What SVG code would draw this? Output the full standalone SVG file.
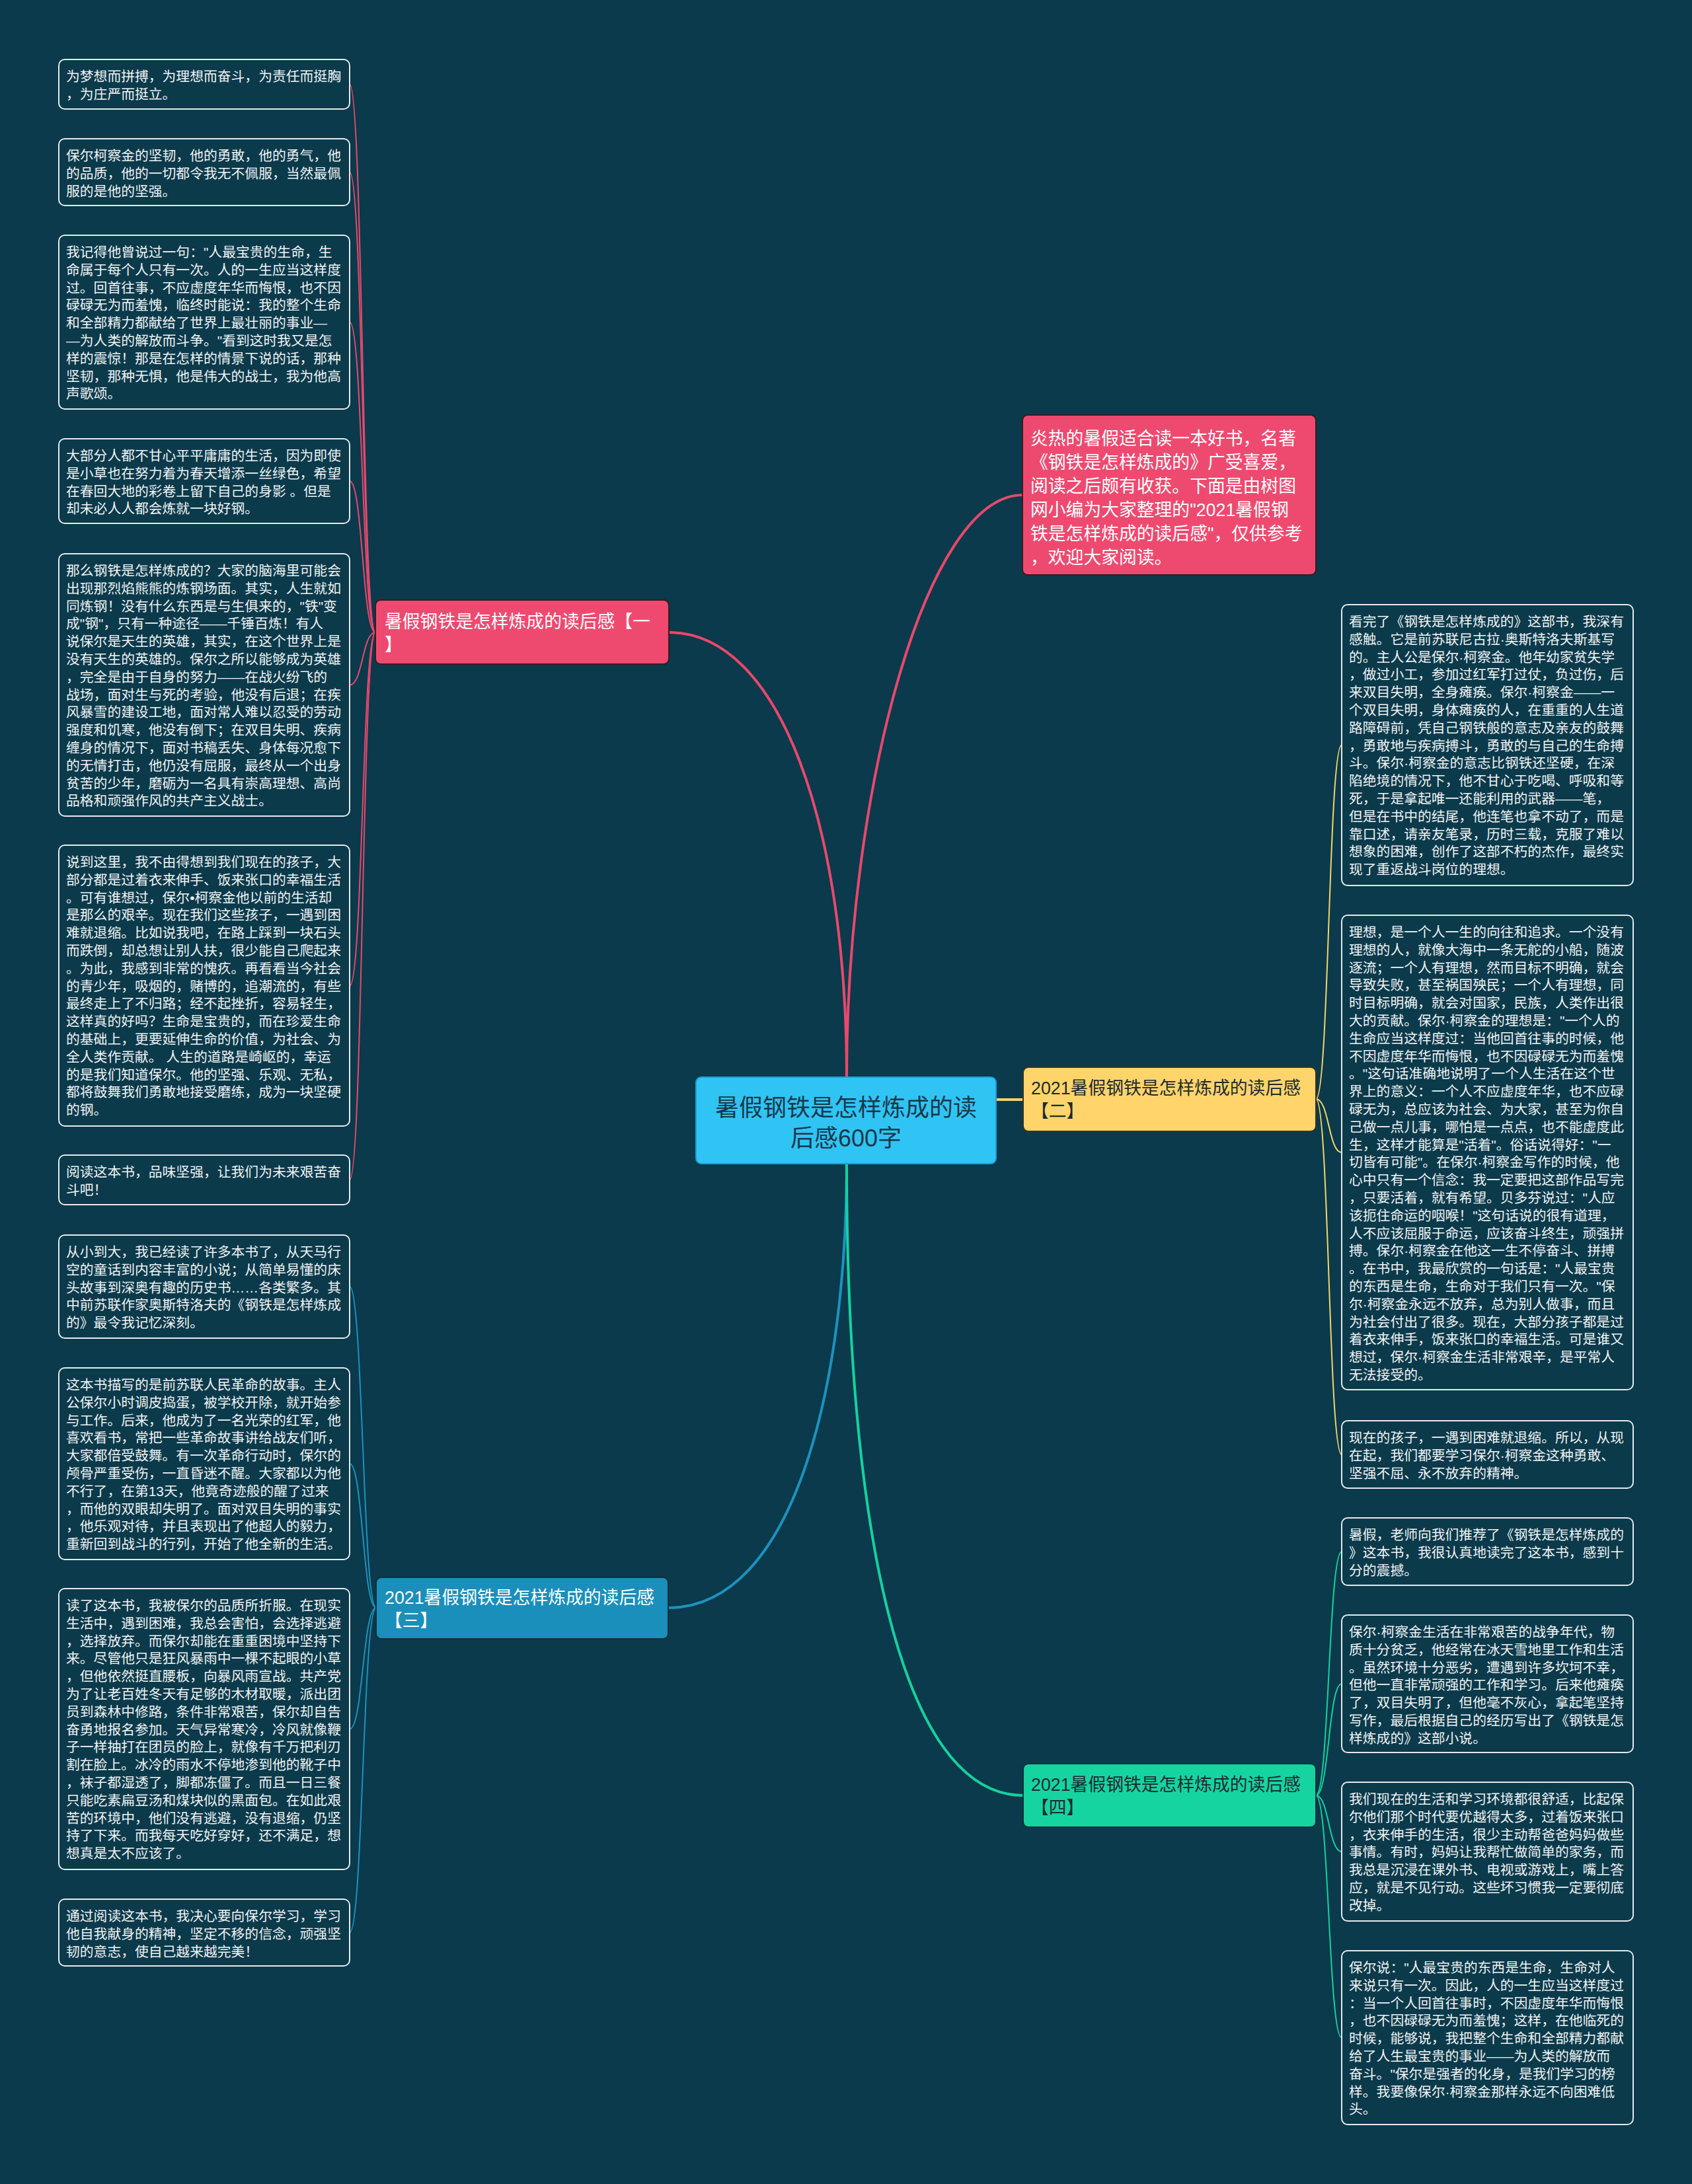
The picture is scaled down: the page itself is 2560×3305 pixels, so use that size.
<svg xmlns="http://www.w3.org/2000/svg" width="2560" height="3305" viewBox="0 0 2560 3305">
<style>
text{font-family:"Liberation Sans","Noto Sans CJK SC",sans-serif;}
.box{fill:#0b3a4b;stroke:#e4eaec;stroke-width:2;}
.t{font-size:20.8px;fill:#f0f3f4;}
.bt{font-size:26.8px;}
.c{fill:none;stroke-linecap:round;}
.cr{stroke:#e9486d;}
.cy{stroke:#f6d46a;}
.cb{stroke:#1d92bf;}
.cg{stroke:#14d2a0;}
.main{stroke-width:4;}
.sub{stroke-width:2;}
</style>
<rect x="0" y="0" width="2560" height="3305" fill="#0a3a4b"/>
<g id="connectors">
<path class="c cr main" d="M1281,1630 C1281,1200 1400,749 1547,749"/>
<path class="c cr main" d="M1281,1630 C1281,1250 1180,957 1012,957"/>
<path class="c cy main" d="M1507,1664 L1548,1664"/>
<path class="c cb main" d="M1281,1761 C1281,2100 1200,2433 1011,2433"/>
<path class="c cg main" d="M1281,1761 C1281,2300 1360,2717 1548,2717"/>
<path class="c cr sub" d="M568,957 C548,957 549,127.5 529,127.5"/>
<path class="c cr sub" d="M568,957 C548,957 549,260.5 529,260.5"/>
<path class="c cr sub" d="M568,957 C548,957 549,487.5 529,487.5"/>
<path class="c cr sub" d="M568,957 C548,957 549,728 529,728"/>
<path class="c cr sub" d="M568,957 C548,957 549,1036.5 529,1036.5"/>
<path class="c cr sub" d="M568,957 C548,957 549,1492 529,1492"/>
<path class="c cr sub" d="M568,957 C548,957 549,1785.5 529,1785.5"/>
<path class="c cy sub" d="M1991,1663 C2011,1663 2010,1127.5 2030,1127.5"/>
<path class="c cy sub" d="M1991,1663 C2011,1663 2010,1744 2030,1744"/>
<path class="c cy sub" d="M1991,1663 C2011,1663 2010,2201 2030,2201"/>
<path class="c cb sub" d="M569,2433 C549,2433 549,1947 529,1947"/>
<path class="c cb sub" d="M569,2433 C549,2433 549,2215 529,2215"/>
<path class="c cb sub" d="M569,2433 C549,2433 549,2616.5 529,2616.5"/>
<path class="c cb sub" d="M569,2433 C549,2433 549,2924.5 529,2924.5"/>
<path class="c cg sub" d="M1991,2717 C2011,2717 2010,2348 2030,2348"/>
<path class="c cg sub" d="M1991,2717 C2011,2717 2010,2548 2030,2548"/>
<path class="c cg sub" d="M1991,2717 C2011,2717 2010,2802 2030,2802"/>
<path class="c cg sub" d="M1991,2717 C2011,2717 2010,3083.5 2030,3083.5"/>
</g>
<g id="main">
<rect x="1053" y="1630" width="454" height="131" rx="8" fill="#2fc4f4" stroke="#1a9fd4" stroke-width="2"/>
<text x="1280" y="1689" font-size="36px" fill="#17384a" text-anchor="middle"><tspan x="1280">暑假钢铁是怎样炼成的读</tspan><tspan x="1280" dy="46">后感600字</tspan></text>
</g>
<g id="intro">
<rect x="1547" y="628" width="444" height="242" rx="8" fill="#ee4a70" stroke="#3a1a22" stroke-width="2"/>
<text class="bt" x="1559" y="673" fill="#ffffff"><tspan x="1559">炎热的暑假适合读一本好书，名著</tspan><tspan x="1559" dy="36">《钢铁是怎样炼成的》广受喜爱，</tspan><tspan x="1559" dy="36">阅读之后颇有收获。下面是由树图</tspan><tspan x="1559" dy="36">网小编为大家整理的"2021暑假钢</tspan><tspan x="1559" dy="36">铁是怎样炼成的读后感"，仅供参考</tspan><tspan x="1559" dy="36">，欢迎大家阅读。</tspan></text>
</g>
<g id="branch1">
<rect x="568" y="908" width="444" height="97" rx="8" fill="#ee4a70" stroke="#3a1a22" stroke-width="2"/>
<text class="bt" x="582" y="950" fill="#ffffff"><tspan x="582">暑假钢铁是怎样炼成的读后感【一</tspan><tspan x="582" dy="35">】</tspan></text>
</g>
<g id="branch2">
<rect x="1548" y="1615" width="443" height="97" rx="8" fill="#ffd56b" stroke="#3a3320" stroke-width="2"/>
<text class="bt" x="1560" y="1656" fill="#1e2a30"><tspan x="1560">2021暑假钢铁是怎样炼成的读后感</tspan><tspan x="1560" dy="35">【二】</tspan></text>
</g>
<g id="branch3">
<rect x="569" y="2387" width="442" height="93" rx="8" fill="#1a8fbb" stroke="#10303c" stroke-width="2"/>
<text class="bt" x="582" y="2427" fill="#ffffff"><tspan x="582">2021暑假钢铁是怎样炼成的读后感</tspan><tspan x="582" dy="35">【三】</tspan></text>
</g>
<g id="branch4">
<rect x="1548" y="2669" width="443" height="96" rx="8" fill="#15d4a0" stroke="#10303c" stroke-width="2"/>
<text class="bt" x="1560" y="2710" fill="#1e2a30"><tspan x="1560">2021暑假钢铁是怎样炼成的读后感</tspan><tspan x="1560" dy="35">【四】</tspan></text>
</g>
<g id="l1">
<rect class="box" x="89" y="90" width="440" height="75" rx="9"/>
<text class="t" x="100" y="123"><tspan x="100">为梦想而拼搏，为理想而奋斗，为责任而挺胸</tspan><tspan x="100" dy="26.8">，为庄严而挺立。</tspan></text>
</g>
<g id="l2">
<rect class="box" x="89" y="210" width="440" height="101" rx="9"/>
<text class="t" x="100" y="243"><tspan x="100">保尔柯察金的坚韧，他的勇敢，他的勇气，他</tspan><tspan x="100" dy="26.8">的品质，他的一切都令我无不佩服，当然最佩</tspan><tspan x="100" dy="26.8">服的是他的坚强。</tspan></text>
</g>
<g id="l3">
<rect class="box" x="89" y="356" width="440" height="263" rx="9"/>
<text class="t" x="100" y="389"><tspan x="100">我记得他曾说过一句："人最宝贵的生命，生</tspan><tspan x="100" dy="26.8">命属于每个人只有一次。人的一生应当这样度</tspan><tspan x="100" dy="26.8">过。回首往事，不应虚度年华而悔恨，也不因</tspan><tspan x="100" dy="26.8">碌碌无为而羞愧，临终时能说：我的整个生命</tspan><tspan x="100" dy="26.8">和全部精力都献给了世界上最壮丽的事业—</tspan><tspan x="100" dy="26.8">—为人类的解放而斗争。"看到这时我又是怎</tspan><tspan x="100" dy="26.8">样的震惊！那是在怎样的情景下说的话，那种</tspan><tspan x="100" dy="26.8">坚韧，那种无惧，他是伟大的战士，我为他高</tspan><tspan x="100" dy="26.8">声歌颂。</tspan></text>
</g>
<g id="l4">
<rect class="box" x="89" y="664" width="440" height="128" rx="9"/>
<text class="t" x="100" y="697"><tspan x="100">大部分人都不甘心平平庸庸的生活，因为即使</tspan><tspan x="100" dy="26.8">是小草也在努力着为春天增添一丝绿色，希望</tspan><tspan x="100" dy="26.8">在春回大地的彩卷上留下自己的身影 。但是</tspan><tspan x="100" dy="26.8">却未必人人都会炼就一块好钢。</tspan></text>
</g>
<g id="l5">
<rect class="box" x="89" y="838" width="440" height="397" rx="9"/>
<text class="t" x="100" y="871"><tspan x="100">那么钢铁是怎样炼成的？大家的脑海里可能会</tspan><tspan x="100" dy="26.8">出现那烈焰熊熊的炼钢场面。其实，人生就如</tspan><tspan x="100" dy="26.8">同炼钢！没有什么东西是与生俱来的，"铁"变</tspan><tspan x="100" dy="26.8">成"钢"，只有一种途径——千锤百炼！有人</tspan><tspan x="100" dy="26.8">说保尔是天生的英雄，其实，在这个世界上是</tspan><tspan x="100" dy="26.8">没有天生的英雄的。保尔之所以能够成为英雄</tspan><tspan x="100" dy="26.8">，完全是由于自身的努力——在战火纷飞的</tspan><tspan x="100" dy="26.8">战场，面对生与死的考验，他没有后退；在疾</tspan><tspan x="100" dy="26.8">风暴雪的建设工地，面对常人难以忍受的劳动</tspan><tspan x="100" dy="26.8">强度和饥寒，他没有倒下；在双目失明、疾病</tspan><tspan x="100" dy="26.8">缠身的情况下，面对书稿丢失、身体每况愈下</tspan><tspan x="100" dy="26.8">的无情打击，他仍没有屈服，最终从一个出身</tspan><tspan x="100" dy="26.8">贫苦的少年，磨砺为一名具有崇高理想、高尚</tspan><tspan x="100" dy="26.8">品格和顽强作风的共产主义战士。</tspan></text>
</g>
<g id="l6">
<rect class="box" x="89" y="1279" width="440" height="425" rx="9"/>
<text class="t" x="100" y="1312"><tspan x="100">说到这里，我不由得想到我们现在的孩子，大</tspan><tspan x="100" dy="26.8">部分都是过着衣来伸手、饭来张口的幸福生活</tspan><tspan x="100" dy="26.8">。可有谁想过，保尔•柯察金他以前的生活却</tspan><tspan x="100" dy="26.8">是那么的艰辛。现在我们这些孩子，一遇到困</tspan><tspan x="100" dy="26.8">难就退缩。比如说我吧，在路上踩到一块石头</tspan><tspan x="100" dy="26.8">而跌倒，却总想让别人扶，很少能自己爬起来</tspan><tspan x="100" dy="26.8">。为此，我感到非常的愧疚。再看看当今社会</tspan><tspan x="100" dy="26.8">的青少年，吸烟的，赌博的，追潮流的，有些</tspan><tspan x="100" dy="26.8">最终走上了不归路；经不起挫折，容易轻生，</tspan><tspan x="100" dy="26.8">这样真的好吗？生命是宝贵的，而在珍爱生命</tspan><tspan x="100" dy="26.8">的基础上，更要延伸生命的价值，为社会、为</tspan><tspan x="100" dy="26.8">全人类作贡献。 人生的道路是崎岖的，幸运</tspan><tspan x="100" dy="26.8">的是我们知道保尔。他的坚强、乐观、无私，</tspan><tspan x="100" dy="26.8">都将鼓舞我们勇敢地接受磨练，成为一块坚硬</tspan><tspan x="100" dy="26.8">的钢。</tspan></text>
</g>
<g id="l7">
<rect class="box" x="89" y="1748" width="440" height="75" rx="9"/>
<text class="t" x="100" y="1781"><tspan x="100">阅读这本书，品味坚强，让我们为未来艰苦奋</tspan><tspan x="100" dy="26.8">斗吧！</tspan></text>
</g>
<g id="l8">
<rect class="box" x="89" y="1869" width="440" height="156" rx="9"/>
<text class="t" x="100" y="1902"><tspan x="100">从小到大，我已经读了许多本书了，从天马行</tspan><tspan x="100" dy="26.8">空的童话到内容丰富的小说；从简单易懂的床</tspan><tspan x="100" dy="26.8">头故事到深奥有趣的历史书……各类繁多。其</tspan><tspan x="100" dy="26.8">中前苏联作家奥斯特洛夫的《钢铁是怎样炼成</tspan><tspan x="100" dy="26.8">的》最令我记忆深刻。</tspan></text>
</g>
<g id="l9">
<rect class="box" x="89" y="2070" width="440" height="290" rx="9"/>
<text class="t" x="100" y="2103"><tspan x="100">这本书描写的是前苏联人民革命的故事。主人</tspan><tspan x="100" dy="26.8">公保尔小时调皮捣蛋，被学校开除，就开始参</tspan><tspan x="100" dy="26.8">与工作。后来，他成为了一名光荣的红军，他</tspan><tspan x="100" dy="26.8">喜欢看书，常把一些革命故事讲给战友们听，</tspan><tspan x="100" dy="26.8">大家都倍受鼓舞。有一次革命行动时，保尔的</tspan><tspan x="100" dy="26.8">颅骨严重受伤，一直昏迷不醒。大家都以为他</tspan><tspan x="100" dy="26.8">不行了，在第13天，他竟奇迹般的醒了过来</tspan><tspan x="100" dy="26.8">，而他的双眼却失明了。面对双目失明的事实</tspan><tspan x="100" dy="26.8">，他乐观对待，并且表现出了他超人的毅力，</tspan><tspan x="100" dy="26.8">重新回到战斗的行列，开始了他全新的生活。</tspan></text>
</g>
<g id="l10">
<rect class="box" x="89" y="2404" width="440" height="425" rx="9"/>
<text class="t" x="100" y="2437"><tspan x="100">读了这本书，我被保尔的品质所折服。在现实</tspan><tspan x="100" dy="26.8">生活中，遇到困难，我总会害怕，会选择逃避</tspan><tspan x="100" dy="26.8">，选择放弃。而保尔却能在重重困境中坚持下</tspan><tspan x="100" dy="26.8">来。尽管他只是狂风暴雨中一棵不起眼的小草</tspan><tspan x="100" dy="26.8">，但他依然挺直腰板，向暴风雨宣战。共产党</tspan><tspan x="100" dy="26.8">为了让老百姓冬天有足够的木材取暖，派出团</tspan><tspan x="100" dy="26.8">员到森林中修路，条件非常艰苦，保尔却自告</tspan><tspan x="100" dy="26.8">奋勇地报名参加。天气异常寒冷，冷风就像鞭</tspan><tspan x="100" dy="26.8">子一样抽打在团员的脸上，就像有千万把利刃</tspan><tspan x="100" dy="26.8">割在脸上。冰冷的雨水不停地渗到他的靴子中</tspan><tspan x="100" dy="26.8">，袜子都湿透了，脚都冻僵了。而且一日三餐</tspan><tspan x="100" dy="26.8">只能吃素扁豆汤和煤块似的黑面包。在如此艰</tspan><tspan x="100" dy="26.8">苦的环境中，他们没有逃避，没有退缩，仍坚</tspan><tspan x="100" dy="26.8">持了下来。而我每天吃好穿好，还不满足，想</tspan><tspan x="100" dy="26.8">想真是太不应该了。</tspan></text>
</g>
<g id="l11">
<rect class="box" x="89" y="2874" width="440" height="101" rx="9"/>
<text class="t" x="100" y="2907"><tspan x="100">通过阅读这本书，我决心要向保尔学习，学习</tspan><tspan x="100" dy="26.8">他自我献身的精神，坚定不移的信念，顽强坚</tspan><tspan x="100" dy="26.8">韧的意志，使自己越来越完美！</tspan></text>
</g>
<g id="r1">
<rect class="box" x="2030" y="915" width="441" height="425" rx="9"/>
<text class="t" x="2041" y="948"><tspan x="2041">看完了《钢铁是怎样炼成的》这部书，我深有</tspan><tspan x="2041" dy="26.8">感触。它是前苏联尼古拉·奥斯特洛夫斯基写</tspan><tspan x="2041" dy="26.8">的。主人公是保尔·柯察金。他年幼家贫失学</tspan><tspan x="2041" dy="26.8">，做过小工，参加过红军打过仗，负过伤，后</tspan><tspan x="2041" dy="26.8">来双目失明，全身瘫痪。保尔·柯察金——一</tspan><tspan x="2041" dy="26.8">个双目失明，身体瘫痪的人，在重重的人生道</tspan><tspan x="2041" dy="26.8">路障碍前，凭自己钢铁般的意志及亲友的鼓舞</tspan><tspan x="2041" dy="26.8">，勇敢地与疾病搏斗，勇敢的与自己的生命搏</tspan><tspan x="2041" dy="26.8">斗。保尔·柯察金的意志比钢铁还坚硬，在深</tspan><tspan x="2041" dy="26.8">陷绝境的情况下，他不甘心于吃喝、呼吸和等</tspan><tspan x="2041" dy="26.8">死，于是拿起唯一还能利用的武器——笔，</tspan><tspan x="2041" dy="26.8">但是在书中的结尾，他连笔也拿不动了，而是</tspan><tspan x="2041" dy="26.8">靠口述，请亲友笔录，历时三载，克服了难以</tspan><tspan x="2041" dy="26.8">想象的困难，创作了这部不朽的杰作，最终实</tspan><tspan x="2041" dy="26.8">现了重返战斗岗位的理想。</tspan></text>
</g>
<g id="r2">
<rect class="box" x="2030" y="1385" width="441" height="718" rx="9"/>
<text class="t" x="2041" y="1418"><tspan x="2041">理想，是一个人一生的向往和追求。一个没有</tspan><tspan x="2041" dy="26.8">理想的人，就像大海中一条无舵的小船，随波</tspan><tspan x="2041" dy="26.8">逐流；一个人有理想，然而目标不明确，就会</tspan><tspan x="2041" dy="26.8">导致失败，甚至祸国殃民；一个人有理想，同</tspan><tspan x="2041" dy="26.8">时目标明确，就会对国家，民族，人类作出很</tspan><tspan x="2041" dy="26.8">大的贡献。保尔·柯察金的理想是："一个人的</tspan><tspan x="2041" dy="26.8">生命应当这样度过：当他回首往事的时候，他</tspan><tspan x="2041" dy="26.8">不因虚度年华而悔恨，也不因碌碌无为而羞愧</tspan><tspan x="2041" dy="26.8">。"这句话准确地说明了一个人生活在这个世</tspan><tspan x="2041" dy="26.8">界上的意义：一个人不应虚度年华，也不应碌</tspan><tspan x="2041" dy="26.8">碌无为，总应该为社会、为大家，甚至为你自</tspan><tspan x="2041" dy="26.8">己做一点儿事，哪怕是一点点，也不能虚度此</tspan><tspan x="2041" dy="26.8">生，这样才能算是"活着"。俗话说得好："一</tspan><tspan x="2041" dy="26.8">切皆有可能"。在保尔·柯察金写作的时候，他</tspan><tspan x="2041" dy="26.8">心中只有一个信念：我一定要把这部作品写完</tspan><tspan x="2041" dy="26.8">，只要活着，就有希望。贝多芬说过："人应</tspan><tspan x="2041" dy="26.8">该扼住命运的咽喉！"这句话说的很有道理，</tspan><tspan x="2041" dy="26.8">人不应该屈服于命运，应该奋斗终生，顽强拼</tspan><tspan x="2041" dy="26.8">搏。保尔·柯察金在他这一生不停奋斗、拼搏</tspan><tspan x="2041" dy="26.8">。在书中，我最欣赏的一句话是："人最宝贵</tspan><tspan x="2041" dy="26.8">的东西是生命，生命对于我们只有一次。"保</tspan><tspan x="2041" dy="26.8">尔·柯察金永远不放弃，总为别人做事，而且</tspan><tspan x="2041" dy="26.8">为社会付出了很多。现在，大部分孩子都是过</tspan><tspan x="2041" dy="26.8">着衣来伸手，饭来张口的幸福生活。可是谁又</tspan><tspan x="2041" dy="26.8">想过，保尔·柯察金生活非常艰辛，是平常人</tspan><tspan x="2041" dy="26.8">无法接受的。</tspan></text>
</g>
<g id="r3">
<rect class="box" x="2030" y="2150" width="441" height="102" rx="9"/>
<text class="t" x="2041" y="2183"><tspan x="2041">现在的孩子，一遇到困难就退缩。所以，从现</tspan><tspan x="2041" dy="26.8">在起，我们都要学习保尔·柯察金这种勇敢、</tspan><tspan x="2041" dy="26.8">坚强不屈、永不放弃的精神。</tspan></text>
</g>
<g id="r4">
<rect class="box" x="2030" y="2297" width="441" height="102" rx="9"/>
<text class="t" x="2041" y="2330"><tspan x="2041">暑假，老师向我们推荐了《钢铁是怎样炼成的</tspan><tspan x="2041" dy="26.8">》这本书，我很认真地读完了这本书，感到十</tspan><tspan x="2041" dy="26.8">分的震撼。</tspan></text>
</g>
<g id="r5">
<rect class="box" x="2030" y="2444" width="441" height="208" rx="9"/>
<text class="t" x="2041" y="2477"><tspan x="2041">保尔·柯察金生活在非常艰苦的战争年代，物</tspan><tspan x="2041" dy="26.8">质十分贫乏，他经常在冰天雪地里工作和生活</tspan><tspan x="2041" dy="26.8">。虽然环境十分恶劣，遭遇到许多坎坷不幸，</tspan><tspan x="2041" dy="26.8">但他一直非常顽强的工作和学习。后来他瘫痪</tspan><tspan x="2041" dy="26.8">了，双目失明了，但他毫不灰心，拿起笔坚持</tspan><tspan x="2041" dy="26.8">写作，最后根据自己的经历写出了《钢铁是怎</tspan><tspan x="2041" dy="26.8">样炼成的》这部小说。</tspan></text>
</g>
<g id="r6">
<rect class="box" x="2030" y="2697" width="441" height="210" rx="9"/>
<text class="t" x="2041" y="2730"><tspan x="2041">我们现在的生活和学习环境都很舒适，比起保</tspan><tspan x="2041" dy="26.8">尔他们那个时代要优越得太多，过着饭来张口</tspan><tspan x="2041" dy="26.8">，衣来伸手的生活，很少主动帮爸爸妈妈做些</tspan><tspan x="2041" dy="26.8">事情。有时，妈妈让我帮忙做简单的家务，而</tspan><tspan x="2041" dy="26.8">我总是沉浸在课外书、电视或游戏上，嘴上答</tspan><tspan x="2041" dy="26.8">应，就是不见行动。这些坏习惯我一定要彻底</tspan><tspan x="2041" dy="26.8">改掉。</tspan></text>
</g>
<g id="r7">
<rect class="box" x="2030" y="2952" width="441" height="263" rx="9"/>
<text class="t" x="2041" y="2985"><tspan x="2041">保尔说："人最宝贵的东西是生命，生命对人</tspan><tspan x="2041" dy="26.8">来说只有一次。因此，人的一生应当这样度过</tspan><tspan x="2041" dy="26.8">：当一个人回首往事时，不因虚度年华而悔恨</tspan><tspan x="2041" dy="26.8">，也不因碌碌无为而羞愧；这样，在他临死的</tspan><tspan x="2041" dy="26.8">时候，能够说，我把整个生命和全部精力都献</tspan><tspan x="2041" dy="26.8">给了人生最宝贵的事业——为人类的解放而</tspan><tspan x="2041" dy="26.8">奋斗。"保尔是强者的化身，是我们学习的榜</tspan><tspan x="2041" dy="26.8">样。我要像保尔·柯察金那样永远不向困难低</tspan><tspan x="2041" dy="26.8">头。</tspan></text>
</g>
</svg>
